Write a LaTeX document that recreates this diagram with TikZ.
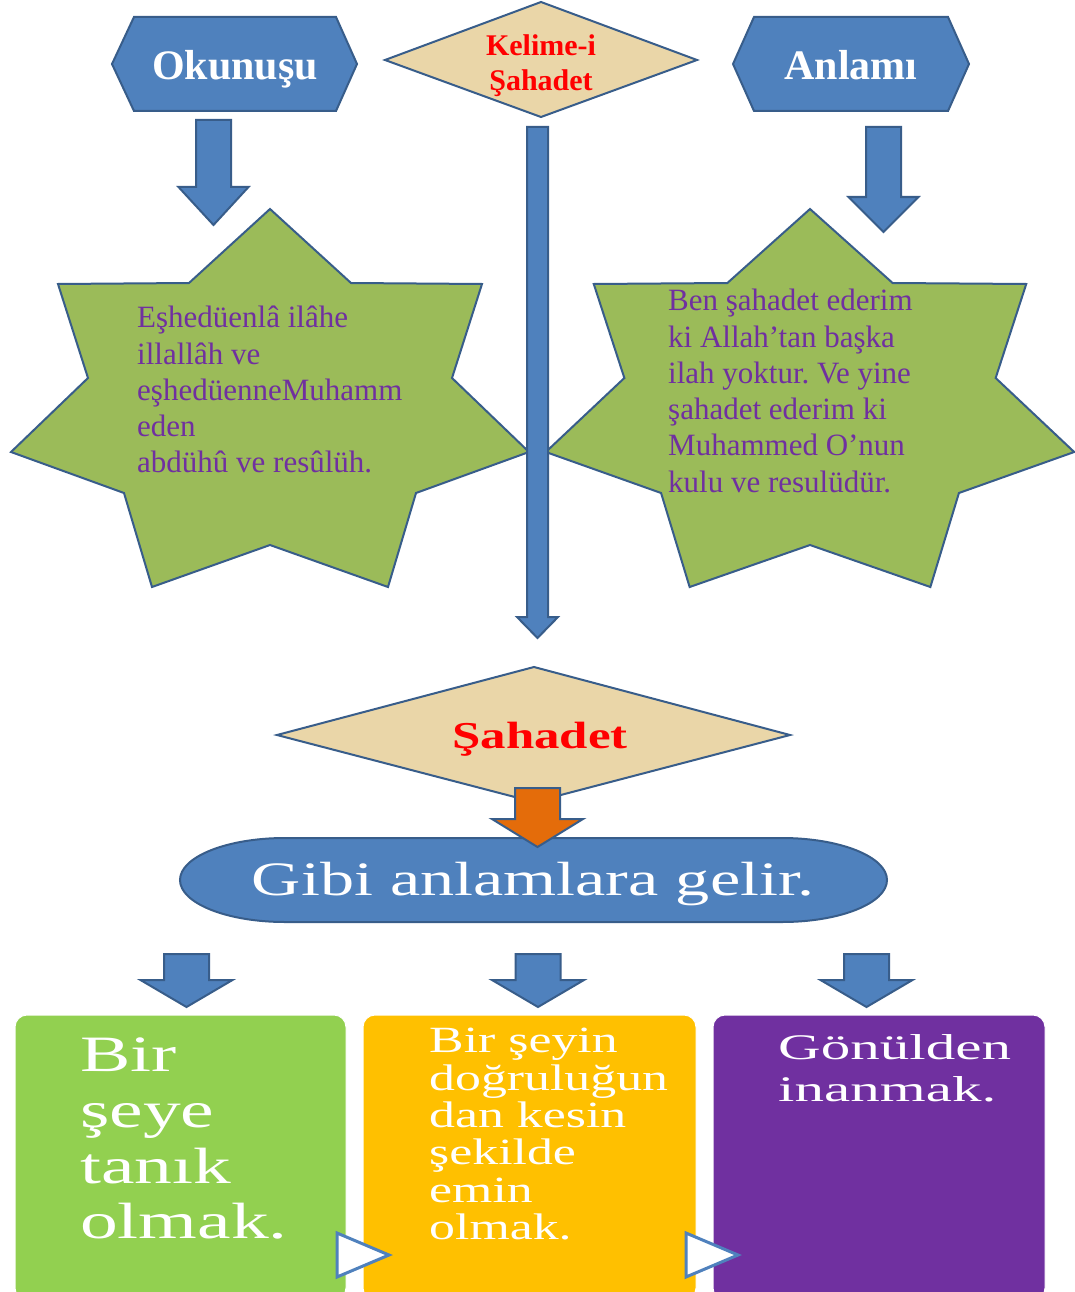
\documentclass[tikz,border=0pt]{standalone}
\usepackage{fontspec}
\usepackage{tikz}
\setmainfont{Liberation Serif}
\newfontfamily\gibifont[FakeStretch=1.42]{Liberation Serif}
\newfontfamily\tanikfont[FakeStretch=1.48]{Liberation Serif}
\newfontfamily\eminfont[FakeStretch=1.40]{Liberation Serif}
\newfontfamily\gonulfont[FakeStretch=1.64]{Liberation Serif}
\newfontfamily\sahadetfont[FakeStretch=1.34]{Liberation Serif}
\frenchspacing
\definecolor{shapeblue}{RGB}{79,129,189}
\definecolor{shapeline}{RGB}{56,93,138}
\definecolor{stargreen}{RGB}{155,187,89}
\definecolor{papyrus}{RGB}{234,214,168}
\definecolor{textpurple}{RGB}{112,48,160}
\definecolor{boxgreen}{RGB}{146,208,80}
\definecolor{boxyellow}{RGB}{255,192,0}
\definecolor{boxpurple}{RGB}{112,48,160}
\definecolor{arroworange}{RGB}{228,108,10}

\newcommand{\sevenstar}[2]{%
  \draw[outline,fill=stargreen,shift={(#1,0)},xscale=#2] (0,209) -- (81,283) -- (212,284) -- (182,378)
    -- (259,452) -- (146,493) -- (118,587) -- (0,545) -- (-118,587) -- (-146,493)
    -- (-259,452) -- (-182,378) -- (-212,284) -- (-81,283) -- cycle;}
\newcommand{\blockarrow}[7]{%
  \draw[outline,fill=#1] ({#2-#6},#3) -- ({#2+#6},#3) -- ({#2+#6},#4) -- ({#2+#7},#4)
    -- (#2,#5) -- ({#2-#7},#4) -- ({#2-#6},#4) -- cycle;}

\begin{document}
\begin{tikzpicture}[x=1pt,y=-1pt,line join=miter,
  outline/.style={draw=shapeline,line width=2pt},
  titletext/.style={text=white,inner sep=0pt,anchor=base,font=\bfseries\fontsize{42}{46}\selectfont},
  startext/.style={text=textpurple,inner sep=0pt,anchor=north west,align=left,font=\fontsize{31}{36.3}\selectfont},
  boxtext/.style={text=white,inner sep=0pt,anchor=north west,align=left},
  colourbox/.style={draw=white,line width=1pt,rounded corners=12pt},
  nextmark/.style={draw=shapeblue,fill=white,line width=3pt}]
\clip (0,0) rectangle (1075,1292);
\fill[white] (0,0) rectangle (1075,1292);

\draw[outline,fill=shapeblue] (112,64) -- (134,17) -- (336,17) -- (357,64) -- (336,111) -- (134,111) -- cycle;
\node[titletext] (okunus) at (235,80) {Okunuşu};
\draw[outline,fill=shapeblue] (733,64) -- (754,17) -- (948,17) -- (969,64) -- (948,111) -- (754,111) -- cycle;
\node[titletext] (anlam) at (851,80) {Anlamı};
\draw[outline,fill=papyrus] (385,60) -- (541,2) -- (697,60) -- (541,117) -- cycle;
\node[text=red,inner sep=0pt,align=center,font=\bfseries\fontsize{30}{35}\selectfont] (kelime) at (541,65.5) {Kelime-i\\Şahadet};

\blockarrow{shapeblue}{213.5}{120}{187}{225}{17.5}{35}
\blockarrow{shapeblue}{883.5}{127}{197}{232}{17.5}{35}

\sevenstar{270}{1}
\sevenstar{810}{1.02}
\node[startext] (okunustext) at (137,306) {Eşhedüenlâ ilâhe\\illallâh ve\\eşhedüenneMuhamm\\eden\\abdühû ve resûlüh.};
\node[startext] (anlamtext) at (668,289) {Ben şahadet ederim\\ki Allah’tan başka\\ilah yoktur. Ve yine\\şahadet ederim ki\\Muhammed O’nun\\kulu ve resulüdür.};

\blockarrow{shapeblue}{537.5}{127}{617}{638}{10.5}{20.5}

\draw[outline,fill=papyrus] (277,735) -- (534,667) -- (790,735) -- (534,802) -- cycle;
\node[text=red,inner sep=0pt,anchor=base,font=\sahadetfont\bfseries\fontsize{38}{42}\selectfont] (sahadet) at (540,748) {Şahadet};

\draw[outline,fill=shapeblue] (285,838) -- (782,838) arc[start angle=-90,end angle=90,x radius=105,y radius=42]
  -- (285,922) arc[start angle=90,end angle=270,x radius=105,y radius=42] -- cycle;
\node[text=white,inner sep=0pt,anchor=base,font=\gibifont\fontsize{48}{52}\selectfont] (gibi) at (533,895) {Gibi anlamlara gelir.};
\blockarrow{arroworange}{537.5}{788}{819}{847}{22.5}{45.5}

\blockarrow{shapeblue}{186.5}{954}{980}{1007}{22.5}{46}
\blockarrow{shapeblue}{538}{954}{980}{1007}{22.5}{46}
\blockarrow{shapeblue}{866.5}{954}{980}{1007}{22.5}{46}

\draw[colourbox,fill=boxgreen] (15,1015) rectangle (346,1300);
\draw[colourbox,fill=boxyellow] (363,1015) rectangle (696,1300);
\draw[colourbox,fill=boxpurple] (713,1015) rectangle (1045,1300);
\node[boxtext,font=\tanikfont\fontsize{51}{55.6}\selectfont] (tanik) at (80,1038) {Bir\\şeye\\tanık\\olmak.};
\node[boxtext,font=\eminfont\fontsize{37}{37.4}\selectfont] (emin) at (429,1028) {Bir şeyin\\doğruluğun\\dan kesin\\şekilde\\emin\\olmak.};
\node[boxtext,font=\gonulfont\fontsize{36}{42.3}\selectfont] (gonul) at (778,1034) {Gönülden\\inanmak.};

\draw[nextmark] (337,1233) -- (389,1255) -- (337,1277) -- cycle;
\draw[nextmark] (686,1233) -- (738,1255) -- (686,1277) -- cycle;
\end{tikzpicture}
\end{document}
